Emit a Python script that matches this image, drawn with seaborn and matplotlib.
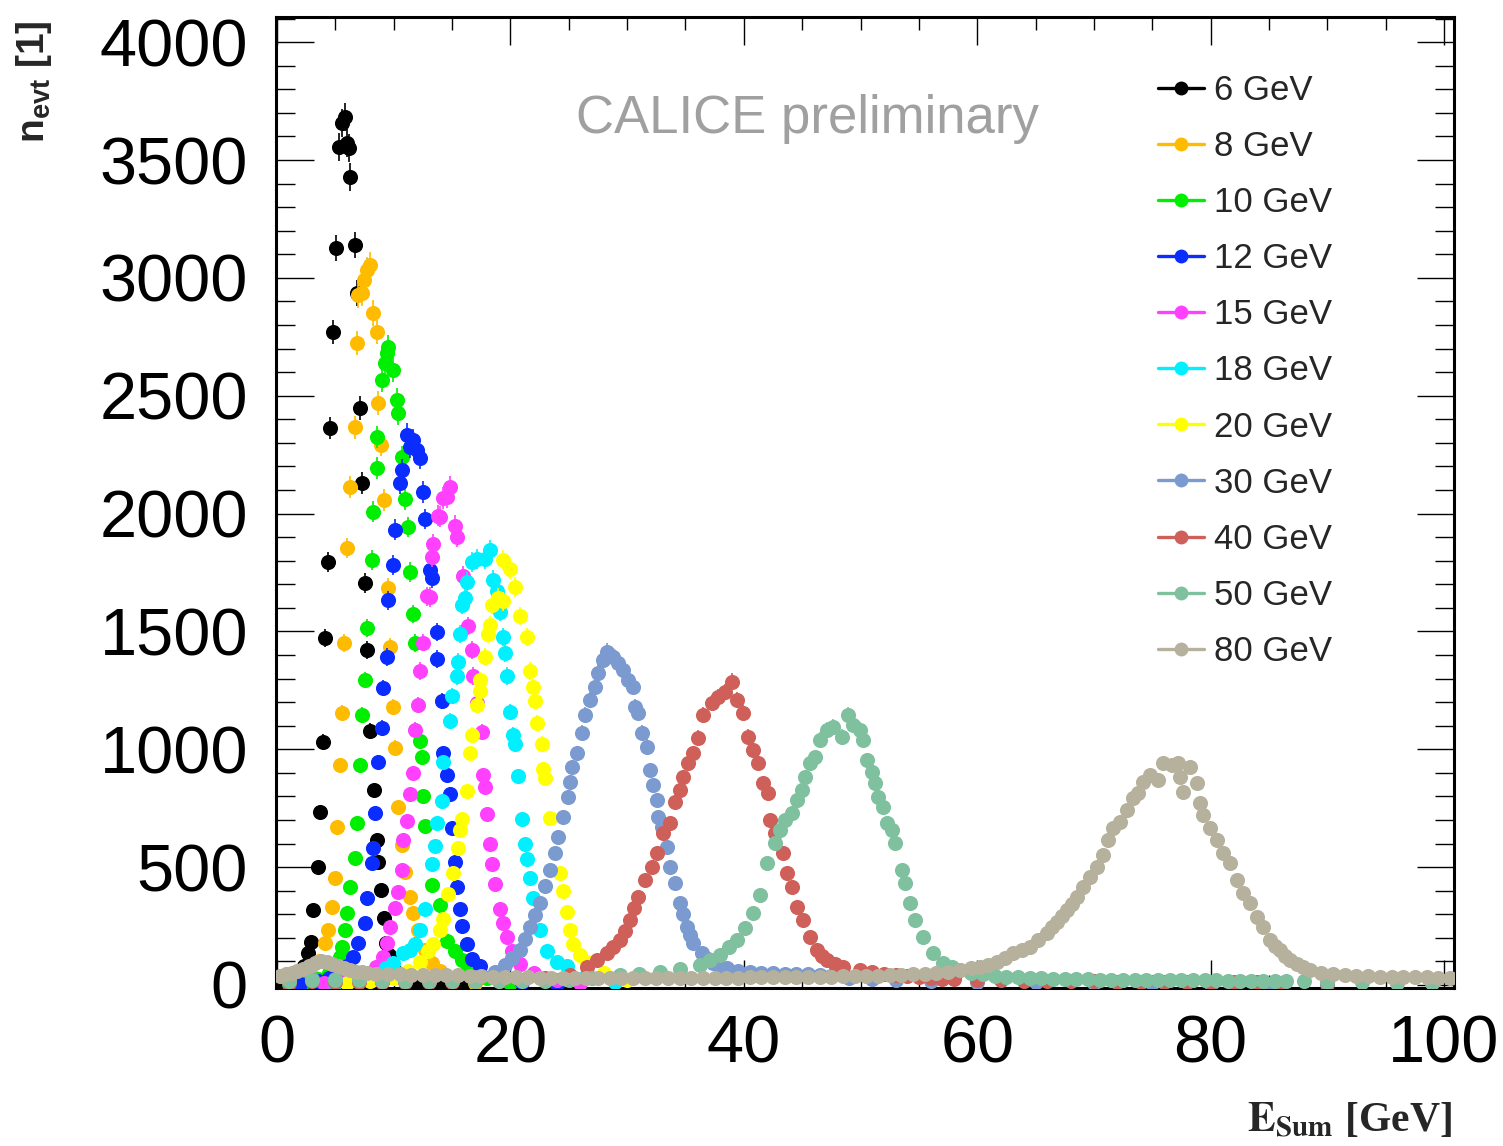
import numpy as np
import pandas as pd
import matplotlib
matplotlib.use("Agg")
import matplotlib.pyplot as plt
import seaborn as sns
from matplotlib.lines import Line2D
from matplotlib.ticker import MultipleLocator

# ---------------- data (E_sum [GeV], n_evt) ----------------
labels = ["6 GeV", "8 GeV", "10 GeV", "12 GeV", "15 GeV", "18 GeV",
          "20 GeV", "30 GeV", "40 GeV", "50 GeV", "80 GeV"]
colors = ["#000000", "#ffbb00", "#00ee00", "#0a2cff", "#ff40ff", "#00f0ff",
          "#ffff00", "#7b9ad0", "#cf6059", "#7fc09e", "#b5b19c"]

e6 = [(0.5, 5), (1.0, 10), (1.5, 20), (2.0, 45), (2.35, 80), (2.66, 136), (2.91, 182),
      (3.08, 318), (3.51, 500), (3.68, 734), (3.94, 1031), (4.11, 1472), (4.37, 1795),
      (4.54, 2363), (4.80, 2770), (5.06, 3127), (5.31, 3555), (5.57, 3657), (5.83, 3683),
      (6.00, 3572), (6.17, 3551), (6.26, 3428), (6.68, 3140), (6.86, 2936), (7.11, 2448),
      (7.28, 2130), (7.54, 1706), (7.71, 1421), (7.97, 1078), (8.31, 827), (8.57, 615),
      (8.65, 522), (8.91, 403), (9.17, 284), (9.34, 178), (9.60, 127), (9.85, 85),
      (10.2, 55), (11.0, 20), (12.0, 8), (14.0, 3), (16.0, 0)]

e8 = [(2.0, 10), (3.0, 40), (3.6, 100), (4.11, 178), (4.40, 233), (4.69, 331), (4.97, 454),
      (5.12, 670), (5.40, 933), (5.54, 1154), (5.74, 1450), (5.97, 1854), (6.26, 2113),
      (6.68, 2367), (6.83, 2724), (6.94, 2927), (7.26, 2936), (7.45, 2991), (7.69, 3033),
      (7.97, 3055), (8.25, 2851), (8.54, 2770), (8.68, 2469), (8.91, 2291), (9.21, 2058),
      (9.54, 1684), (9.68, 1434), (9.97, 1179), (10.11, 1006), (10.39, 755), (10.69, 594),
      (10.97, 479), (11.40, 373), (11.68, 305), (12.08, 233), (12.68, 148), (13.28, 95),
      (13.97, 60), (15.0, 25), (17.0, 8)]

e10 = [(1.0, 5), (2.5, 15), (3.5, 25), (4.5, 50), (5.0, 80), (5.40, 119), (5.54, 161),
       (5.83, 233), (6.00, 305), (6.26, 416), (6.68, 539), (6.83, 687), (7.11, 933),
       (7.26, 1146), (7.54, 1294), (7.69, 1515), (8.12, 1803), (8.25, 2007), (8.54, 2194),
       (8.60, 2325), (8.97, 2567), (9.25, 2639), (9.40, 2682), (9.54, 2707), (9.97, 2609),
       (10.26, 2482), (10.39, 2427), (10.69, 2240), (10.97, 2062), (11.25, 1943),
       (11.40, 1752), (11.68, 1574), (11.82, 1451), (12.25, 1035), (12.40, 967),
       (12.54, 802), (12.68, 675), (13.26, 424), (13.97, 339), (14.54, 187), (15.25, 144),
       (15.85, 106), (16.37, 72), (18.0, 30), (20.0, 10)]

e12 = [(2.0, 5), (3.5, 15), (4.5, 30), (5.5, 55), (6.0, 80), (6.51, 119), (6.94, 178),
       (7.54, 263), (7.69, 369), (8.12, 518), (8.26, 581), (8.40, 730), (8.68, 946),
       (8.97, 1090), (9.11, 1260), (9.40, 1392), (9.54, 1633), (9.97, 1782), (10.11, 1931),
       (10.54, 2130), (10.69, 2185), (11.11, 2334), (11.40, 2283), (11.68, 2312),
       (11.97, 2270), (12.25, 2236), (12.54, 2092), (12.68, 1977), (13.11, 1761),
       (13.26, 1727), (13.68, 1498), (13.75, 1383), (14.11, 1205), (14.26, 984),
       (14.54, 891), (14.82, 810), (14.97, 666), (15.25, 522), (15.40, 416), (15.68, 322),
       (15.83, 250), (16.26, 174), (16.68, 110), (17.40, 81), (19.0, 35), (21.0, 12),
       (24.0, 4)]

e15 = [(4.0, 8), (6.0, 20), (7.5, 40), (8.5, 75), (9.11, 119), (9.40, 178), (9.68, 246),
       (10.11, 327), (10.39, 395), (10.69, 488), (10.82, 615), (11.11, 696), (11.40, 810),
       (11.68, 900), (11.82, 1082), (12.11, 1188), (12.25, 1332), (12.54, 1453),
       (12.83, 1650), (13.11, 1646), (13.26, 1816), (13.39, 1871), (13.82, 1990),
       (13.97, 1986), (14.25, 2066), (14.54, 2071), (14.82, 2113), (15.25, 1948),
       (15.40, 1901), (15.96, 1735), (16.39, 1523), (16.68, 1421), (16.82, 1311),
       (17.11, 1197), (17.54, 1073), (17.68, 891), (17.82, 840), (17.97, 726),
       (18.25, 598), (18.40, 513), (18.68, 429), (19.11, 323), (19.40, 263), (19.68, 204),
       (20.11, 144), (20.82, 89), (22.0, 50), (24.0, 20), (26.0, 8)]

e18 = [(5.0, 10), (7.0, 20), (8.5, 45), (9.3, 70), (9.94, 93), (10.82, 136), (11.40, 148),
       (11.82, 174), (12.25, 233), (12.68, 324), (13.26, 513), (13.54, 590), (13.68, 687),
       (14.11, 781), (14.25, 946), (14.82, 1120), (14.97, 1226), (15.40, 1311),
       (15.54, 1370), (15.68, 1489), (15.83, 1612), (16.11, 1642), (16.26, 1710),
       (16.68, 1795), (17.11, 1808), (17.82, 1808), (18.25, 1846), (18.54, 1718),
       (18.83, 1672), (19.11, 1583), (19.39, 1477), (19.54, 1409), (19.68, 1311),
       (19.97, 1158), (20.25, 1061), (20.39, 1023), (20.68, 887), (20.97, 704),
       (21.25, 598), (21.40, 535), (21.68, 454), (21.97, 369), (22.54, 233), (23.11, 144),
       (23.97, 98), (24.82, 81), (26.5, 40), (29.0, 12)]

e20 = [(6.0, 8), (8.0, 15), (10.0, 30), (11.2, 60), (12.25, 98), (12.96, 144), (13.39, 174),
       (13.97, 233), (14.25, 280), (14.68, 386), (15.11, 475), (15.54, 581), (15.68, 658),
       (15.83, 704), (16.26, 823), (16.54, 984), (16.68, 1061), (17.11, 1188),
       (17.40, 1247), (17.40, 1294), (17.82, 1392), (18.11, 1489), (18.25, 1527),
       (18.40, 1612), (18.96, 1642), (19.39, 1629), (19.39, 1803), (19.97, 1765),
       (20.39, 1689), (20.82, 1566), (21.40, 1477), (21.68, 1332), (21.96, 1264),
       (22.11, 1205), (22.25, 1112), (22.68, 1023), (22.82, 917), (22.96, 878),
       (23.39, 708), (24.25, 475), (24.53, 399), (24.82, 310), (25.11, 233), (25.39, 174),
       (25.96, 127), (26.54, 98), (28.0, 50), (30.0, 20)]

e30 = [(1.0, 15), (3.0, 25), (5.0, 25), (7.0, 20), (9.0, 18), (11.0, 18), (13.0, 20),
       (15.0, 25), (17.0, 35), (18.68, 55), (19.54, 85), (20.14, 115), (20.82, 148),
       (21.25, 195), (21.68, 246), (22.1, 295), (22.54, 348), (23.0, 420), (23.39, 488),
       (23.82, 560), (24.10, 628), (24.53, 713), (24.96, 798), (25.1, 860), (25.25, 925),
       (25.68, 984), (26.11, 1069), (26.39, 1146), (26.82, 1209), (27.25, 1264),
       (27.53, 1324), (27.96, 1379), (28.25, 1413), (28.53, 1400), (28.82, 1392),
       (29.25, 1366), (29.67, 1337), (30.10, 1294), (30.53, 1264), (30.68, 1180),
       (30.96, 1154), (31.25, 1069), (31.68, 1010), (31.96, 912), (32.25, 849),
       (32.54, 785), (32.68, 713), (32.96, 670), (33.39, 586), (33.68, 501), (34.10, 433),
       (34.53, 348), (34.8, 300), (35.11, 246), (35.4, 210), (35.67, 178), (36.39, 136),
       (36.9, 110), (37.36, 93), (37.9, 80), (38.53, 72), (39.5, 60), (40.5, 55),
       (41.5, 52), (42.5, 50), (43.5, 48), (44.5, 46), (45.5, 45), (46.5, 42), (47.5, 38),
       (49.0, 30), (51.0, 25), (53.0, 20), (56.0, 16), (60.0, 14), (65.0, 12), (70.0, 10),
       (75.0, 8), (80.0, 6), (85.0, 5), (90.0, 4)]

e40 = [(1.0, 10), (3.0, 15), (5.0, 14), (7.0, 12), (9.0, 12), (11.0, 12), (13.0, 13),
       (15.0, 14), (17.0, 15), (19.0, 17), (21.0, 20), (23.0, 28), (25.11, 42),
       (26.54, 76), (27.4, 105), (28.25, 136), (28.8, 160), (29.39, 191), (29.8, 230),
       (30.25, 276), (30.6, 325), (30.96, 373), (31.53, 445), (32.11, 501), (32.54, 560),
       (33.10, 645), (33.68, 687), (34.10, 776), (34.53, 827), (34.82, 883), (35.24, 942),
       (35.67, 984), (36.10, 1048), (36.53, 1146), (37.25, 1196), (37.82, 1222),
       (38.39, 1243), (38.96, 1286), (39.39, 1209), (39.96, 1154), (40.39, 1052),
       (40.82, 997), (41.25, 942), (41.67, 857), (42.10, 815), (42.25, 700), (42.67, 645),
       (43.38, 560), (43.67, 475), (44.10, 416), (44.53, 331), (45.10, 276), (45.67, 204),
       (46.25, 148), (46.7, 125), (47.10, 106), (47.8, 90), (48.53, 76), (49.96, 64),
       (51.0, 55), (52.0, 48), (53.0, 42), (54.0, 38), (55.0, 34), (56.0, 30), (57.0, 27),
       (58.0, 25), (60.0, 22), (62.0, 20), (64.0, 18), (66.0, 17), (68.0, 16), (70.0, 15),
       (72.0, 14), (74.0, 14), (76.0, 13), (78.0, 13), (80.0, 12), (82.0, 12), (84.0, 12),
       (86.0, 10), (90.0, 8)]

e50 = [(1.0, 15), (3.0, 20), (5.0, 22), (7.0, 20), (9.0, 18), (11.0, 17), (13.0, 16),
       (15.0, 16), (17.0, 16), (19.0, 16), (21.0, 17), (23.0, 18), (25.0, 22), (27.0, 28),
       (29.39, 42), (31.0, 48), (32.82, 55), (34.5, 68), (36.25, 85), (37.1, 105),
       (37.96, 127), (38.7, 160), (39.39, 191), (40.10, 242), (40.81, 306), (41.39, 382),
       (41.96, 518), (42.67, 603), (43.10, 658), (43.53, 700), (44.10, 730), (44.53, 785),
       (44.96, 827), (45.24, 883), (45.67, 942), (46.10, 967), (46.53, 1040),
       (47.10, 1082), (47.67, 1095), (48.39, 1052), (48.96, 1146), (49.39, 1103),
       (49.96, 1082), (50.24, 1040), (50.53, 955), (50.96, 904), (51.24, 857),
       (51.53, 798), (51.96, 755), (52.24, 687), (52.67, 658), (52.96, 603), (53.53, 488),
       (53.81, 433), (54.24, 348), (54.67, 276), (55.38, 204), (56.24, 136), (57.10, 93),
       (57.8, 76), (58.53, 64), (59.5, 52), (60.5, 45), (61.5, 40), (62.5, 36),
       (63.5, 33), (64.5, 30), (65.5, 28), (66.5, 27), (67.5, 26), (68.5, 25), (69.5, 24),
       (70.5, 23), (71.5, 23), (72.5, 22), (73.5, 22), (74.5, 21), (75.5, 21), (76.5, 20),
       (77.5, 20), (78.5, 20), (79.5, 20), (80.5, 20), (81.5, 19), (82.5, 19), (83.5, 18),
       (84.5, 18), (85.5, 17), (86.5, 16), (88.0, 15), (90.0, 14), (93.0, 12), (96.0, 10),
       (99.0, 8)]

e80 = [(0.25, 40), (0.75, 45), (1.25, 50), (1.75, 58), (2.25, 68), (2.75, 80), (3.25, 92),
       (3.75, 100), (4.25, 98), (4.75, 90), (5.25, 80), (5.75, 70), (6.25, 62), (6.75, 57),
       (7.25, 53), (7.75, 50), (8.5, 48), (9.5, 46), (10.5, 45), (11.5, 44), (12.5, 43),
       (13.5, 42), (14.5, 42), (15.5, 41), (16.5, 40), (17.5, 38), (18.5, 36), (19.5, 34),
       (20.5, 33), (21.5, 32), (22.5, 31), (23.5, 30), (24.5, 30), (25.5, 29), (26.5, 29),
       (27.5, 28), (28.5, 28), (29.5, 28), (30.5, 28), (31.5, 28), (32.5, 28), (33.5, 29),
       (34.5, 29), (35.5, 29), (36.5, 30), (37.5, 30), (38.5, 31), (39.5, 31), (40.5, 32),
       (41.5, 32), (42.5, 33), (43.5, 33), (44.5, 34), (45.5, 35), (46.5, 35), (47.5, 36),
       (48.5, 37), (49.5, 38), (50.5, 39), (51.5, 40), (52.5, 41), (53.5, 43), (54.5, 45),
       (55.5, 48), (56.5, 52), (57.5, 57), (58.5, 63), (59.5, 70), (60.24, 76), (60.9, 86),
       (61.67, 98), (62.4, 115), (63.09, 136), (63.8, 148), (64.52, 161), (65.2, 190),
       (65.95, 221), (66.4, 245), (66.81, 267), (67.25, 292), (67.67, 318), (68.1, 345),
       (68.53, 373), (69.09, 416), (69.67, 458), (70.24, 501), (70.81, 552), (71.24, 615),
       (71.67, 666), (72.24, 692), (72.81, 742), (73.38, 793), (73.80, 815), (74.23, 861),
       (74.81, 891), (75.52, 870), (75.95, 942), (76.67, 933), (77.23, 942), (77.38, 883),
       (77.66, 819), (78.23, 925), (78.81, 857), (79.09, 772), (79.37, 721), (79.95, 666),
       (80.52, 615), (81.09, 560), (81.66, 518), (82.24, 445), (82.80, 390), (83.38, 348),
       (83.95, 289), (84.52, 246), (85.09, 191), (85.5, 165), (85.95, 148), (86.4, 125),
       (86.80, 106), (87.4, 90), (87.95, 76), (88.5, 65), (89.5, 52), (90.5, 47),
       (91.5, 43), (92.5, 40), (93.5, 37), (94.5, 35), (95.5, 34), (96.5, 33), (97.5, 33),
       (98.5, 32), (99.5, 31), (100.5, 30)]

series = [e6, e8, e10, e12, e15, e18, e20, e30, e40, e50, e80]

# ---------------- style ----------------
sns.set_style("ticks")
plt.rcParams["font.family"] = ["Liberation Sans", "DejaVu Sans"]
plt.rcParams["mathtext.fontset"] = "custom"
plt.rcParams["mathtext.rm"] = "Liberation Sans"
plt.rcParams["mathtext.bf"] = "Liberation Sans:bold"
plt.rcParams["mathtext.it"] = "Liberation Sans:italic"

frames = []
for lab, pts in zip(labels, series):
    arr = np.array(pts, dtype=float)
    frames.append(pd.DataFrame({"E": arr[:, 0], "n": arr[:, 1], "beam": lab}))
df = pd.concat(frames, ignore_index=True)

fig = plt.figure(figsize=(15.03, 11.46), dpi=100)
fig.patch.set_facecolor("white")
ax = fig.add_axes([0.18343, 0.13813, 0.78370, 0.84729])

for i, lab in enumerate(labels):
    sub = df[df["beam"] == lab]
    ax.errorbar(sub["E"], sub["n"], yerr=np.sqrt(sub["n"].clip(lower=0)), fmt="none",
                ecolor=colors[i], elinewidth=1.2, capsize=0, zorder=2 + 2 * i)
    sns.scatterplot(data=sub, x="E", y="n", color=colors[i], s=118, linewidth=0,
                    ax=ax, zorder=3 + 2 * i, legend=False)

ax.set_xlim(-0.11, 100.82)
ax.set_ylim(-11.5, 4108)
ax.set_xlabel("")
ax.set_ylabel("")
ax.xaxis.set_major_locator(MultipleLocator(20))
ax.xaxis.set_minor_locator(MultipleLocator(5))
ax.yaxis.set_major_locator(MultipleLocator(500))
ax.yaxis.set_minor_locator(MultipleLocator(100))
ax.tick_params(which="both", direction="in", top=True, right=True, width=1.0, colors="black")
ax.tick_params(axis="y", which="major", length=27, labelsize=48, pad=20)
ax.tick_params(axis="y", which="minor", length=14)
ax.tick_params(axis="x", which="major", length=20, labelsize=48, pad=19)
ax.tick_params(axis="x", which="minor", length=9.5)
for sp in ax.spines.values():
    sp.set_linewidth(2.2)
    sp.set_color("black")
    sp.set_visible(True)

fig.text(807.5 / 1503, 1 - 133 / 1146, "CALICE preliminary", ha="center", va="baseline",
         fontsize=38, color="#a0a0a0")
fig.text(34 / 1503, 1 - 20 / 1146, r"$\mathbf{n}_{\mathbf{evt}}$ [1]", rotation=90,
         ha="center", va="top", fontsize=28, fontweight="bold", math_fontfamily="custom")
fig.text(1452 / 1503, 1 - 1132 / 1146, r"$\mathbf{E}_{\mathbf{Sum}}$ [GeV]", ha="right",
         va="baseline", fontsize=30, family=["Liberation Serif", "DejaVu Serif"],
         fontweight="bold", math_fontfamily="stix")

handles = [Line2D([0], [0], color=c, lw=2.4, marker="o", markersize=10,
                  markeredgewidth=0) for c in colors]
fig.legend(handles, labels, loc="upper left", bbox_to_anchor=(1158 / 1503, 1 - 74 / 1146),
           frameon=False, fontsize=25, handlelength=1.32, handletextpad=0.3,
           labelspacing=0.665, borderpad=0, borderaxespad=0)

fig.savefig("out.png", dpi=100, facecolor="white")
